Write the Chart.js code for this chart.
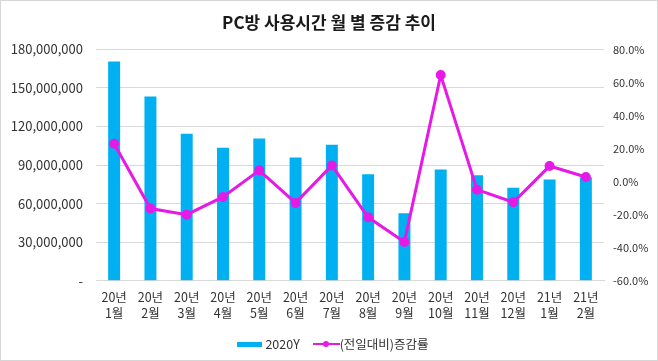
<!DOCTYPE html>
<html>
<head>
<meta charset="utf-8">
<script src="https://cdn.jsdelivr.net/npm/chart.js@4"></script>
<style>
  html, body { margin: 0; padding: 0; background: #fff; }
  #wrap { position: relative; width: 658px; height: 361px; box-sizing: border-box; border: 1px solid #d6d6d6; }
  canvas { position: absolute; left: 0; top: 0; }
  #legend { position: absolute; top: 332px; left: 4px; width: 656px; height: 18px; line-height: 18px; text-align: center;
    font-family: "Noto Sans CJK KR", "Noto Sans", sans-serif; font-size: 12.5px; color: #333; }
  #legend span.item { display: inline-block; margin: 0 5px; vertical-align: middle; }
  .sw { display: inline-block; vertical-align: middle; margin-right: 3px; position: relative; }
</style>
</head>
<body>
<div id="wrap">
  <canvas id="chart" width="656" height="359"></canvas>
  <div id="legend">
    <span class="item"><span class="sw" style="width:25px;height:5px;background:#00b0f0;top:-1px"></span>2020Y</span>
    <span class="item"><span class="sw" style="width:27px;height:8px;top:-1px;margin-right:0">
      <span style="position:absolute;left:0;top:3px;width:27px;height:2px;background:#e619e6"></span>
      <span style="position:absolute;left:10px;top:1px;width:6px;height:6px;border-radius:50%;background:#e619e6"></span>
    </span>(전일대비)증감률</span>
  </div>
</div>
<script>
// months, two-line labels
const months = [
  ["20년", "1월"], ["20년", "2월"], ["20년", "3월"], ["20년", "4월"], ["20년", "5월"],
  ["20년", "6월"], ["20년", "7월"], ["20년", "8월"], ["20년", "9월"], ["20년", "10월"],
  ["20년", "11월"], ["20년", "12월"], ["21년", "1월"], ["21년", "2월"]
];
// PC방 사용시간 (hours)
const usage = [
  170500000, 143400000, 114300000, 103500000, 110700000, 95800000, 105800000,
  82900000, 52500000, 86500000, 82100000, 72400000, 78800000, 80600000
];
// 전월대비 증감률 (%)
const change = [22.9, -16.3, -20.0, -9.3, 6.8, -12.9, 9.8, -21.6, -36.5, 64.5, -4.9, -12.5, 9.4, 2.8];

const font = { family: '"Noto Sans CJK KR", "Noto Sans", sans-serif', size: 12.5 };

new Chart(document.getElementById("chart"), {
  data: {
    labels: months,
    datasets: [
      {
        type: "line",
        label: "(전일대비)증감률",
        data: change,
        yAxisID: "y2",
        borderColor: "#e619e6",
        backgroundColor: "#e619e6",
        borderWidth: 3,
        pointRadius: 3.5,
        pointHoverRadius: 3.5,
        tension: 0,
        order: 0
      },
      {
        type: "bar",
        label: "2020Y",
        data: usage,
        yAxisID: "y",
        backgroundColor: "#00b0f0",
        barPercentage: 0.33,
        categoryPercentage: 1,
        order: 1
      }
    ]
  },
  options: {
    responsive: false,
    animation: false,
    layout: { padding: { top: 0, bottom: 30, left: 0, right: 0 } },
    plugins: {
      legend: { display: false },
      tooltip: { enabled: false },
      title: {
        display: true,
        text: "PC방 사용시간 월 별 증감 추이",
        color: "#1a1a1a",
        font: { family: font.family, size: 17, weight: "bold" },
        padding: { top: 11, bottom: 17 }
      }
    },
    scales: {
      x: {
        grid: { display: false, drawTicks: false },
        border: { color: "#d9d9d9" },
        ticks: { color: "#333", font: { ...font, lineHeight: 1.25 }, padding: 9, maxRotation: 0, autoSkip: false }
      },
      y: {
        position: "left",
        min: 0,
        max: 180000000,
        border: { display: false },
        grid: { color: "#d9d9d9", drawTicks: false },
        ticks: {
          stepSize: 30000000,
          color: "#333",
          font: { ...font, size: 13 },
          padding: 13,
          callback: (v) => (v === 0 ? "-" : v.toLocaleString("en-US"))
        },
        afterFit: (s) => { s.width = 95; }
      },
      y2: {
        position: "right",
        min: -60,
        max: 80,
        border: { display: false },
        grid: { display: false, drawTicks: false },
        ticks: {
          stepSize: 20,
          color: "#333",
          font: { ...font, size: 11 },
          padding: 9,
          callback: (v) => v.toFixed(1) + "%"
        },
        afterFit: (s) => { s.width = 53; }
      }
    }
  }
});
</script>
</body>
</html>
